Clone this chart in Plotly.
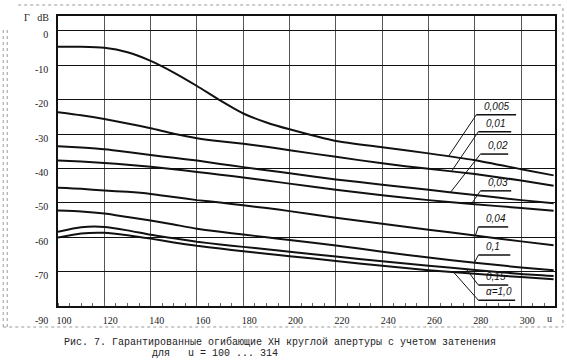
import numpy as np
import plotly.graph_objects as go

# ---------------- data ----------------
u = [100, 110, 120, 130, 140, 150, 160, 170, 180, 190, 200, 220, 240, 260, 280, 300, 314]

g_0005 = [-4.6, -4.6, -4.9, -6.2, -8.7, -12.1, -16.0, -20.2, -24.0, -26.6, -28.6, -32.0, -33.8, -35.6, -37.6, -40.2, -42.0]
g_001 = [-23.6, -24.5, -25.6, -26.9, -28.3, -29.9, -31.2, -32.1, -32.8, -33.7, -34.7, -36.6, -38.5, -40.1, -41.6, -43.5, -45.0]
g_002 = [-33.5, -33.9, -34.4, -35.2, -36.1, -36.9, -37.7, -38.7, -39.6, -40.5, -41.4, -43.2, -44.7, -46.2, -47.7, -49.2, -50.1]
g_003 = [-37.7, -38.0, -38.4, -38.9, -39.5, -40.2, -41.0, -41.8, -42.6, -43.5, -44.4, -46.2, -47.8, -49.2, -50.4, -51.5, -52.3]
g_004 = [-45.6, -45.9, -46.4, -46.8, -47.4, -48.3, -49.2, -49.9, -50.7, -51.5, -52.4, -54.3, -56.1, -57.8, -59.5, -61.2, -62.3]
g_01 = [-52.2, -52.5, -53.1, -54.1, -55.1, -56.3, -57.5, -58.4, -59.2, -60.0, -60.8, -62.4, -64.2, -65.9, -67.4, -68.8, -69.6]
g_015 = [-58.4, -57.1, -57.0, -58.0, -59.3, -60.3, -61.3, -62.1, -62.8, -63.5, -64.2, -65.6, -67.0, -68.3, -69.5, -70.7, -71.3]
g_10 = [-60.1, -58.9, -58.7, -59.4, -60.4, -61.5, -62.5, -63.3, -64.1, -64.8, -65.5, -66.9, -68.3, -69.6, -70.6, -71.6, -72.2]

series = [g_0005, g_001, g_002, g_003, g_004, g_01, g_015, g_10]
series_names = ["0,005", "0,01", "0,02", "0,03", "0,04", "0,1", "0,15", "α=1,0"]

x_ticks = [100, 120, 140, 160, 180, 200, 220, 240, 260, 280, 300]
x_ticktext = [str(v) for v in x_ticks]
y_ticks = [0, -10, -20, -30, -40, -50, -60, -70]
y_ticktext = ["0", "-10", "-20", "-30", "-40", "-50", "-60", "-70"]
y_bottom_label = "-90"

caption1 = "Рис. 7. Гарантированные огибающие ХН круглой апертуры с учетом затенения"
caption2 = "для   u = 100 ... 314"

# label callouts: underline left (u, dB), underline right u, curve point u
lab_u0 = [280.6, 281.5, 282.4, 282.4, 281.5, 281.5, 281.5, 281.5]
lab_y0 = [-24.4, -29.3, -35.8, -46.5, -57.0, -65.2, -73.9, -78.3]
lab_u1 = [297.8, 295.7, 294.4, 295.7, 294.4, 295.3, 294.4, 297.4]
lab_tu = [268.6, 269.9, 269.5, 278.5, 280.2, 279.8, 276.3, 270.8]

X0, X1 = 100, 314.6
Y0, Y1 = -80, 4.36

fig = go.Figure()
for name, ys in zip(series_names, series):
    fig.add_trace(go.Scatter(x=u, y=ys, mode="lines", name=name,
                             line=dict(color="#111", width=2, shape="spline", smoothing=0.6),
                             showlegend=False, hoverinfo="skip"))

shapes = []
annotations = []
for name, ys, a0, b0, a1, tu in zip(series_names, series, lab_u0, lab_y0, lab_u1, lab_tu):
    ty = float(np.interp(tu, u, ys))
    shapes.append(dict(type="line", xref="x", yref="y", x0=a0, y0=b0, x1=a1, y1=b0,
                       line=dict(color="#111", width=1.5)))
    shapes.append(dict(type="line", xref="x", yref="y", x0=a0, y0=b0, x1=tu, y1=ty,
                       line=dict(color="#111", width=1)))
    annotations.append(dict(xref="x", yref="y", x=a0 + 2.3, y=b0 + 0.3, text="<i>" + name + "</i>",
                            showarrow=False, xanchor="left", yanchor="bottom",
                            font=dict(family="Liberation Sans", size=10, color="#111")))

W, H = 567, 363
ML, MR, MT, MB = 58, 10, 16, 57
pw, ph = W - ML - MR, H - MT - MB


def px(x):
    return (x - ML) / pw


def py(y):
    return (H - MB - y) / ph


# page frame (scan border)
frame = dict(color="#999", width=1, dash="dot")
shapes += [
    dict(type="line", xref="paper", yref="paper", x0=px(18), y0=py(5), x1=px(563), y1=py(5), line=frame),
    dict(type="line", xref="paper", yref="paper", x0=px(565), y0=py(8), x1=px(565), y1=py(327), line=frame),
    dict(type="line", xref="paper", yref="paper", x0=px(3), y0=py(327), x1=px(565), y1=py(327), line=frame),
    dict(type="line", xref="paper", yref="paper", x0=px(3), y0=py(30), x1=px(3), y1=py(327), line=frame),
    dict(type="line", xref="paper", yref="paper", x0=px(7), y0=py(30), x1=px(7), y1=py(327), line=frame),
]

annotations += [
    dict(xref="paper", yref="paper", x=px(22), y=py(17), text="Г&nbsp;&nbsp;&nbsp;dB", showarrow=False,
         xanchor="left", yanchor="middle", font=dict(family="Liberation Serif", size=10, color="#222")),
    dict(xref="paper", yref="paper", x=px(50), y=py(320), text=y_bottom_label, showarrow=False,
         xanchor="right", yanchor="middle", font=dict(family="Liberation Serif", size=10, color="#222")),
    dict(xref="paper", yref="paper", x=px(551), y=py(318), text="u", showarrow=False,
         xanchor="center", yanchor="middle", font=dict(family="Liberation Serif", size=10, color="#222")),
    dict(xref="paper", yref="paper", x=px(62), y=py(342), text=caption1, showarrow=False,
         xanchor="left", yanchor="middle", font=dict(family="Liberation Mono", size=10, color="#222")),
    dict(xref="paper", yref="paper", x=px(150), y=py(353), text=caption2, showarrow=False,
         xanchor="left", yanchor="middle", font=dict(family="Liberation Mono", size=10, color="#222")),
]

fig.update_layout(
    width=W, height=H,
    margin=dict(l=ML, r=MR, t=MT, b=MB, pad=0),
    paper_bgcolor="white", plot_bgcolor="white",
    shapes=shapes, annotations=annotations,
    xaxis=dict(range=[X0, X1], tickvals=x_ticks, ticktext=x_ticktext, showgrid=True,
               gridcolor="#555", gridwidth=1.2, zeroline=False, showline=True, mirror=True,
               linecolor="#111", linewidth=1.5, ticks="", ticklabelshift=6, ticklabelstandoff=4,
               tickfont=dict(family="Liberation Serif", size=10, color="#222"),
               minor=dict(ticks="inside", ticklen=3, dtick=5, tickcolor="#666", showgrid=False)),
    yaxis=dict(range=[Y0, Y1], tickvals=y_ticks, ticktext=y_ticktext, showgrid=True,
               gridcolor="#111", gridwidth=1, zeroline=False, showline=True, mirror=True,
               linecolor="#111", linewidth=1.5, ticks="", ticklabelstandoff=6, ticklabelshift=4,
               tickfont=dict(family="Liberation Serif", size=10, color="#222")),
)

fig.write_html("out.html", config={"displayModeBar": False},
               post_script="document.body.style.margin='0';document.body.style.overflow='hidden';")
